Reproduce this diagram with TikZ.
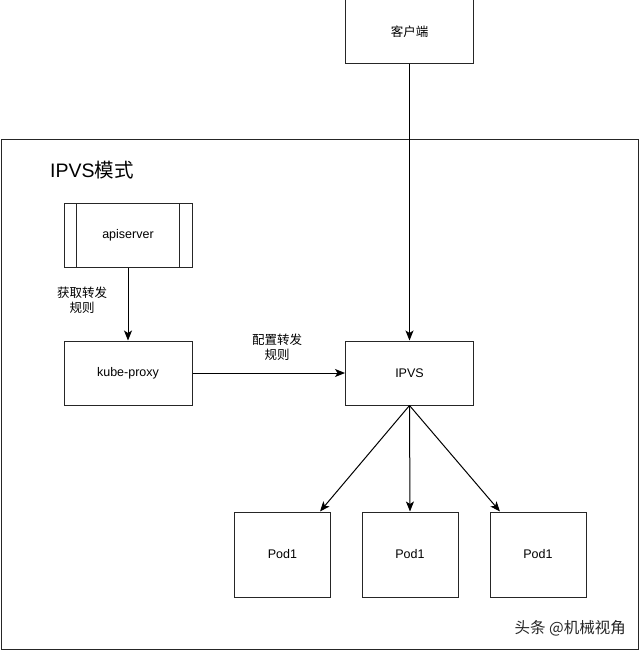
\documentclass[tikz,border=0pt]{standalone}
\usepackage{fontspec}
\setmainfont{Liberation Sans}
\newfontfamily\cjk{Noto Sans CJK SC}
\usetikzlibrary{arrows.meta}
\begin{document}
\begin{tikzpicture}[x=1pt,y=-1pt,
  box/.style={draw=black!85,line width=1pt,fill=white,inner sep=0pt,
    minimum width=128pt,minimum height=64pt,font=\fontsize{12.5}{14}\selectfont},
  podbox/.style={box,minimum width=96pt,minimum height=85pt},
  conn/.style={draw=black,line width=1pt,-{Stealth[length=10pt,width=8pt,inset=2.5pt]}},
  lbl/.style={align=center,font=\cjk\fontsize{12.5}{15}\selectfont,inner sep=0pt}]
\useasboundingbox[fill=white] (0,0) rectangle (640,651);
% outer container
\node[draw=black!85,line width=1pt,inner sep=0pt,minimum width=637pt,minimum height=510pt] (frame) at (319.5,394) {};
\node[anchor=west,font=\fontsize{19.5}{22}\selectfont,inner sep=0pt] (title) at (50,170) {IPVS{\cjk 模式}};
% nodes
\node[box] (client) at (409.5,31.5) {\cjk 客户端};
\node[box] (api) at (128,235.5) {apiserver};
\draw[line width=1pt,draw=black!85] ([xshift=13pt]api.north west) -- ([xshift=13pt]api.south west);
\draw[line width=1pt,draw=black!85] ([xshift=-13pt]api.north east) -- ([xshift=-13pt]api.south east);
\node[box] (proxy) at (128,373) {kube-proxy};
\node[box] (ipvs) at (409.5,373) {IPVS};
\node[podbox] (pod1) at (282.5,554.5) {Pod1};
\node[podbox] (pod2) at (410,554.5) {Pod1};
\node[podbox] (pod3) at (538,554.5) {Pod1};
% connectors
\draw[conn] (api.south) -- (proxy.north);
\draw[conn] (proxy.east) -- (ipvs.west);
\draw[conn] (client.south) -- (ipvs.north);
\coordinate (ipvsb) at (ipvs.south);
\draw[conn] (ipvsb) -- (pod1.north -| 320,0);
\draw[conn] (ipvsb) -- (pod2.north);
\draw[conn] (ipvsb) -- (pod3.north -| 500,0);
% labels
\node[lbl] (l1) at (82,300) {获取转发\\规则};
\node[lbl] (l2) at (277,347) {配置转发\\规则};
\node[anchor=east,inner sep=0pt,text=black!85,font=\cjk\fontsize{15.5}{18}\selectfont] (wm) at (626,628) {头条 @机械视角};
\end{tikzpicture}
\end{document}
